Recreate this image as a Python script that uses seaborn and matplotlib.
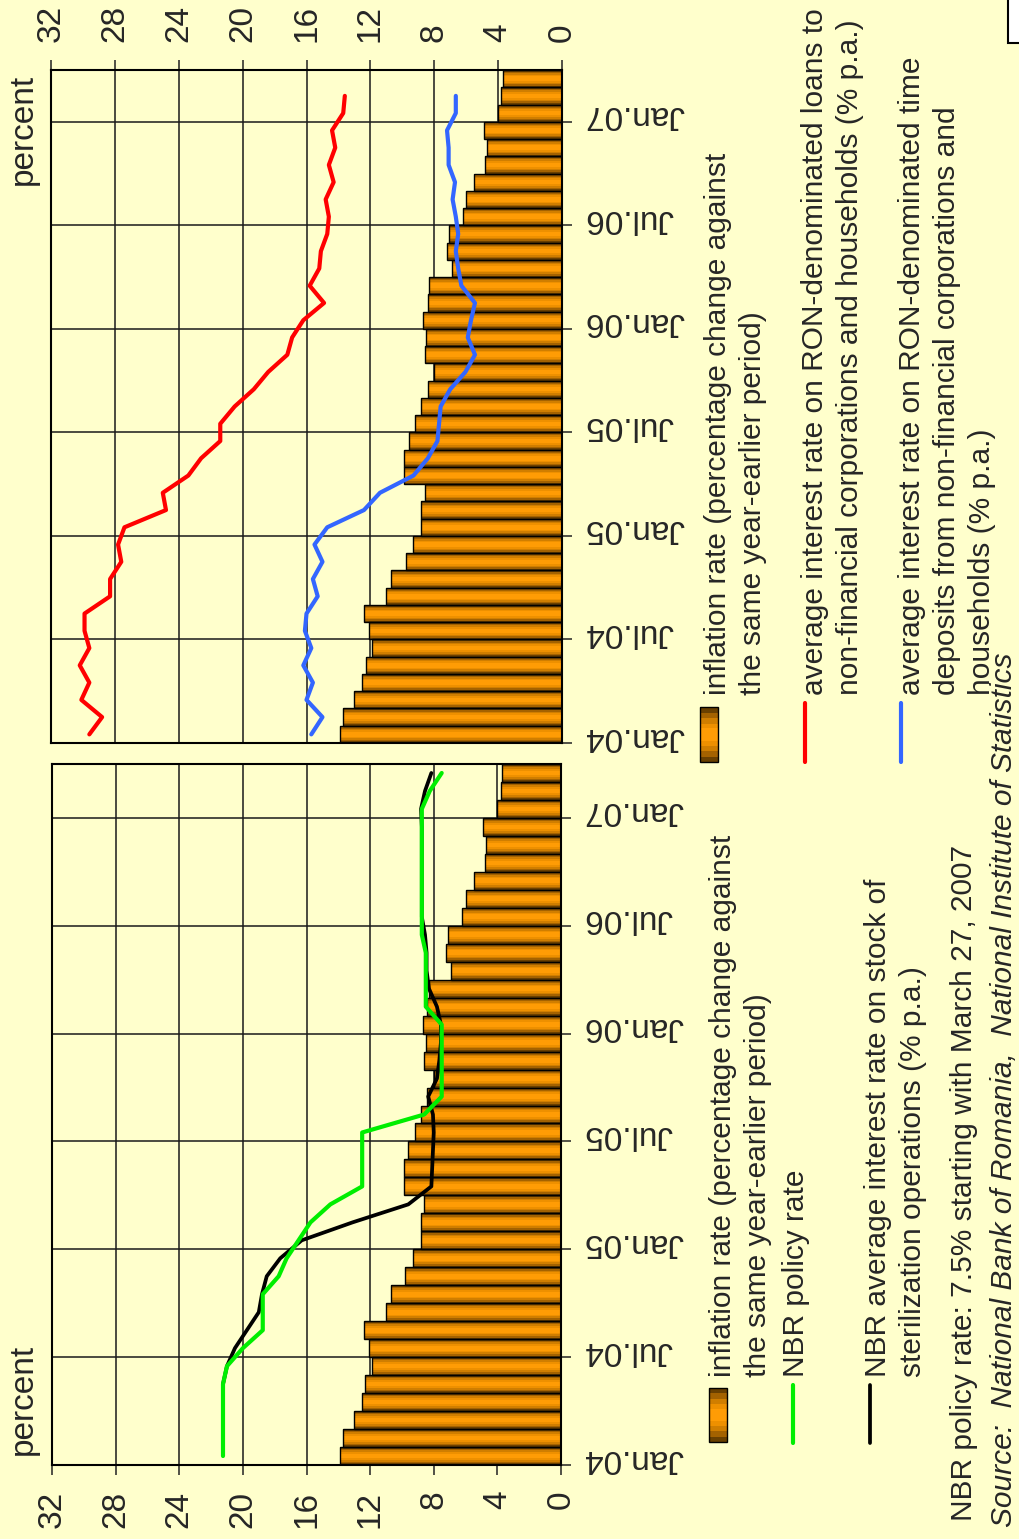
import numpy as np
import pandas as pd
import matplotlib
matplotlib.use("Agg")
import matplotlib.pyplot as plt
from matplotlib.patches import Rectangle
from matplotlib.lines import Line2D
from matplotlib.transforms import ScaledTranslation
import seaborn as sns

# monthly data, Jan 2004 - Mar 2007
months = list(pd.date_range("2004-01-01", periods=39, freq="MS").strftime("%b.%y"))
date_ticks = ["Jan.04", "Jul.04", "Jan.05", "Jul.05", "Jan.06", "Jul.06", "Jan.07"]
pct_ticks = [0, 4, 8, 12, 16, 20, 24, 28, 32]

inflation = [13.9, 13.7, 13.0, 12.5, 12.3, 11.9, 12.1, 12.4, 11.0, 10.7, 9.8, 9.3,
             8.8, 8.8, 8.6, 9.9, 9.9, 9.6, 9.2, 8.8, 8.4, 8.0, 8.6, 8.5,
             8.7, 8.4, 8.3, 6.9, 7.2, 7.1, 6.2, 6.0, 5.5, 4.8, 4.7, 4.9,
             4.0, 3.8, 3.7]
nbr_policy = [21.25, 21.25, 21.25, 21.25, 21.25, 21.0, 20.0, 18.75, 18.75, 18.75, 17.75, 17.25,
              16.5, 15.75, 14.5, 12.5, 12.5, 12.5, 12.5, 8.6, 7.5, 7.5, 7.5, 7.5,
              7.5, 8.5, 8.5, 8.5, 8.5, 8.75, 8.75, 8.75, 8.75, 8.75, 8.75, 8.75,
              8.75, 8.25, 7.5]
nbr_steril = [np.nan, np.nan, np.nan, np.nan, 21.25, 21.0, 20.5, 19.75, 19.0, 18.8, 18.5, 17.65,
              16.3, 13.1, 9.6, 8.15, 8.1, 8.05, 8.0, 8.05, 8.35, 7.8, 7.65, 7.55,
              7.55, 7.8, 8.3, 8.45, 8.45, 8.55, 8.75, 8.75, 8.75, 8.75, 8.75, 8.75,
              8.8, 8.55, 8.15]
loan_rate = [29.6, 28.8, 30.1, 29.6, 30.2, 29.6, 29.9, 29.9, 28.3, 28.3, 27.6, 27.8,
             27.4, 24.8, 25.0, 23.4, 22.6, 21.4, 21.4, 20.5, 19.3, 18.4, 17.2, 16.9,
             16.2, 14.9, 15.8, 15.2, 15.1, 14.7, 14.6, 14.8, 14.3, 14.6, 14.2, 14.4,
             13.7, 13.6, np.nan]
deposit_rate = [15.7, 15.0, 16.0, 15.6, 16.2, 15.7, 16.1, 16.0, 15.3, 15.6, 15.0, 15.5,
                14.7, 12.4, 11.4, 9.3, 8.4, 7.8, 7.7, 7.6, 7.0, 6.05, 5.45, 5.9,
                5.7, 5.45, 6.3, 6.5, 6.65, 6.5, 6.65, 6.85, 6.7, 7.1, 7.1, 7.2,
                6.65, 6.65, np.nan]

BG = "#FFFFCC"
sns.set_style("white")
plt.rcParams["font.family"] = ["Liberation Sans", "DejaVu Sans"]

W, H = 1019, 1539
fig = plt.figure(figsize=(W / 100, H / 100), dpi=100, facecolor=BG)


def fx(x):
    return x / W


def fy(y):
    return 1 - y / H


df = pd.DataFrame({"month": months, "pos": np.arange(len(months)) + 0.5,
                   "inflation": inflation, "policy": nbr_policy, "steril": nbr_steril,
                   "loans": loan_rate, "deposits": deposit_rate})

# cylinder-like shading of the bars
shades = [(1.0, "#6a4000"), (0.82, "#a46200"), (0.64, "#d07e00"), (0.46, "#ee9000"), (0.26, "#ff9c05")]


def draw_panel(ax, series, top):
    ax.set_facecolor(BG)
    for w, c in shades:
        sns.barplot(data=df, x="inflation", y="pos", orient="y", native_scale=True,
                    width=w, color=c, saturation=1, linewidth=0, errorbar=None,
                    ax=ax, zorder=2)
    sns.barplot(data=df, x="inflation", y="pos", orient="y", native_scale=True,
                width=1.0, fill=False, color="black", linewidth=1.0, errorbar=None,
                ax=ax, zorder=3)
    for col, color, lw, z in series:
        sns.lineplot(data=df, x=col, y="pos", orient="y", color=color, linewidth=lw,
                     solid_capstyle="round", ax=ax, zorder=z)
    ax.set_xlim(32, 0)
    ax.set_ylim(0, 39)
    ax.set_xlabel("")
    ax.set_ylabel("")
    ax.set_xticks(pct_ticks)
    ax.set_xticklabels([str(t) for t in pct_ticks], rotation=90)
    ax.set_yticks(np.arange(0, 37, 6))
    ax.set_yticklabels(date_ticks, rotation=180, va="center")
    ax.yaxis.tick_right()
    if top:
        ax.xaxis.tick_top()
        ax.tick_params(axis="x", pad=13)
    else:
        ax.xaxis.tick_bottom()
        ax.tick_params(axis="x", pad=11)
    ax.tick_params(axis="both", labelsize=24, length=7.5, width=1.1, color="#222222")
    ax.tick_params(axis="y", pad=9)
    ax.grid(True, color="#1a1a1a", linewidth=1.1)
    ax.set_axisbelow(True)
    for s in ax.spines.values():
        s.set_color("black")
        s.set_linewidth(1.5)
    # nudge the upside-down date labels a little upwards
    shift = ScaledTranslation(0, 7 / 100, fig.dpi_scale_trans)
    for lab in ax.get_yticklabels():
        lab.set_transform(lab.get_transform() + shift)


ax_top = fig.add_axes([fx(51), fy(743), (562 - 51) / W, (743 - 70) / H])
draw_panel(ax_top, [("loans", "#FF0000", 3.0, 5), ("deposits", "#3366FF", 3.0, 5)], True)

ax_bot = fig.add_axes([fx(52), fy(1465), (561 - 52) / W, (1465 - 764) / H])
draw_panel(ax_bot, [("steril", "black", 2.7, 5), ("policy", "#00EE00", 3.0, 6)], False)

LINE_STEP = 34  # pixels between lines of the rotated legend texts


def vtext(x, y, s, size=21.5, **kw):
    # x is the baseline of the first line; matplotlib anchors the last one
    x = x + (s.count("\n")) * LINE_STEP
    fig.text(fx(x), fy(y), s, rotation=90, rotation_mode="anchor", ha="left",
             va="baseline", fontsize=size, linespacing=1.3, **kw)


def bar_key(x0, x1, y0, y1):
    h = y1 - y0
    for frac, c in [(1.0, "#6a4000"), (0.8, "#a46200"), (0.6, "#d07e00"), (0.4, "#ee9000"), (0.22, "#ff9c05")]:
        pad = h * (1 - frac) / 2
        fig.add_artist(Rectangle((fx(x0), fy(y1 - pad)), (x1 - x0) / W, h * frac / H,
                                 transform=fig.transFigure, facecolor=c, edgecolor="none"))
    fig.add_artist(Rectangle((fx(x0), fy(y1)), (x1 - x0) / W, h / H, transform=fig.transFigure,
                             facecolor="none", edgecolor="black", linewidth=1.0))


def line_key(x, y0, y1, color, lw=3.0):
    fig.add_artist(Line2D([fx(x), fx(x)], [fy(y0), fy(y1)], transform=fig.transFigure,
                          color=color, linewidth=lw, solid_capstyle="round"))


# "percent" labels
vtext(32, 185, "percent", size=24)
vtext(32, 1455, "percent", size=24)

# legend of the top panel
bar_key(700, 718, 707, 762)
vtext(720, 695, "inflation rate (percentage change against\nthe same year-earlier period)")
line_key(805, 703, 762, "#FF0000")
vtext(817, 695, "average interest rate on RON-denominated loans to\n"
                "non-financial corporations and households (% p.a.)")
line_key(901, 703, 762, "#3366FF")
vtext(915, 695, "average interest rate on RON-denominated time\n"
                "deposits from non-financial corporations and\nhouseholds (% p.a.)")

# legend of the bottom panel
bar_key(709, 727, 1388, 1442)
vtext(725, 1377, "inflation rate (percentage change against\nthe same year-earlier period)")
line_key(793, 1385, 1443, "#00EE00")
vtext(804, 1377, "NBR policy rate")
line_key(870, 1385, 1443, "black", 2.7)
vtext(880, 1377, "NBR average interest rate on stock of\nsterilization operations (% p.a.)")

vtext(972, 1521, "NBR policy rate: 7.5% starting with March 27, 2007")
vtext(1012, 1527, "Source:  National Bank of Romania,  National Institute of Statistics",
      style="italic")

# page-number box cut off at the corner
fig.add_artist(Rectangle((fx(1008), fy(43)), 0.05, 0.05, transform=fig.transFigure,
                         facecolor="white", edgecolor="black", linewidth=1.5))

fig.savefig("out.png", dpi=100, facecolor=BG)
